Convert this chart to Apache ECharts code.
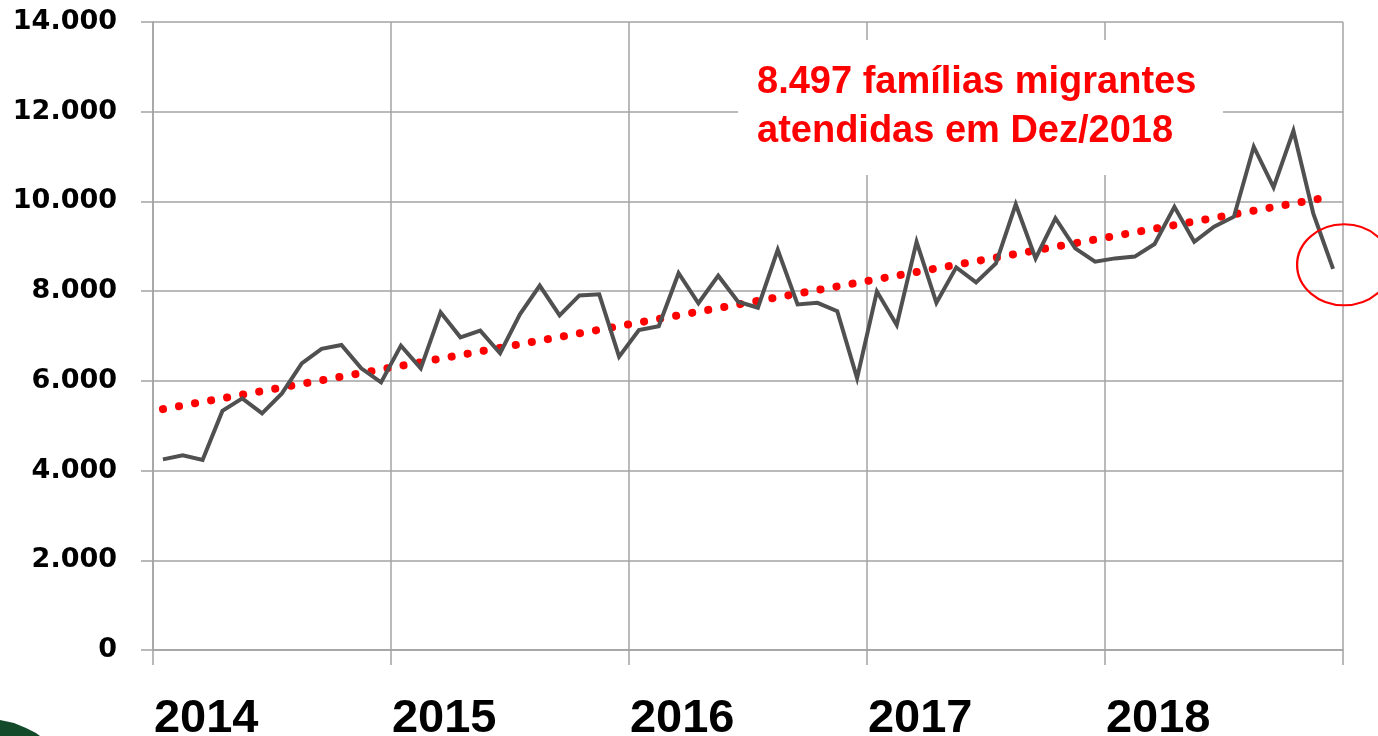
<!DOCTYPE html>
<html>
<head>
<meta charset="utf-8">
<script src="https://cdn.jsdelivr.net/npm/echarts@6/dist/echarts.min.js"></script>
<style>
  html, body { margin: 0; padding: 0; background: #fff; }
  #main { width: 1378px; height: 736px; }
</style>
</head>
<body>
<div id="main"></div>
<script>
// anos e meses do eixo x
const years = ["2014", "2015", "2016", "2017", "2018"];
const monthNames = ["jan", "fev", "mar", "abr", "mai", "jun", "jul", "ago", "set", "out", "nov", "dez"];

// familias migrantes atendidas por mes
const familias = [
  4250, 4340, 4235, 5330, 5610, 5275, 5720, 6390, 6715, 6800, 6280, 5965,
  6785, 6280, 7530, 6970, 7120, 6615, 7485, 8125, 7460, 7905, 7930, 6540,
  7135, 7220, 8400, 7730, 8345, 7765, 7630, 8920, 7705, 7740, 7555, 6060,
  7990, 7245, 9100, 7740, 8530, 8195, 8620, 9935, 8730, 9625, 8955, 8655,
  8730, 8770, 9050, 9880, 9100, 9435, 9660, 11220, 10315, 11575, 9735, 8497
];

// linha de tendencia (pontos inicial e final)
const trendStart = 5370;
const trendEnd = 10115;

const yTickLabels = ["0", "2.000", "4.000", "6.000", "8.000", "10.000", "12.000", "14.000"];
const noteLines = ["8.497 famílias migrantes", "atendidas em Dez/2018"];

const categories = [];
years.forEach(function (y) {
  monthNames.forEach(function (m) {
    categories.push(m + "/" + y);
  });
});

const trend = categories.map(function (c, i) {
  if (i === 0) return trendStart;
  if (i === categories.length - 1) return trendEnd;
  return null;
});

const gridColor = "#a3a3a3";

let option = {
  animation: false,
  backgroundColor: "#fff",
  grid: {
    left: 153,
    right: 35,
    top: 22,
    bottom: 86,
    outerBoundsMode: "none",
  },
  xAxis: {
    type: "category",
    data: categories,
    boundaryGap: true,
    axisLine: { lineStyle: { color: gridColor, width: 1.5 } },
    axisTick: { show: true, interval: 11, length: 15, lineStyle: { color: gridColor, width: 1.5 } },
    axisLabel: {
      interval: 11,
      align: "left",
      margin: 46,
      padding: [0, 0, 0, -9],
      fontFamily: "Liberation Sans",
      fontWeight: "bold",
      fontSize: 47,
      color: "#000",
      formatter: function (value) {
        return value.split("/")[1];
      },
    },
    splitLine: { show: true, interval: 11, lineStyle: { color: gridColor, width: 1.5 } },
  },
  yAxis: {
    type: "value",
    min: 0,
    max: 14000,
    interval: 2000,
    axisLine: { show: true, lineStyle: { color: gridColor, width: 1.5 } },
    axisTick: { show: true, length: 12, lineStyle: { color: gridColor, width: 1.5 } },
    axisLabel: {
      margin: 36,
      fontFamily: "DejaVu Sans",
      fontWeight: "bold",
      fontSize: 27,
      color: "#000",
      formatter: function (v) {
        return yTickLabels[v / 2000];
      },
    },
    splitLine: { lineStyle: { color: gridColor, width: 1.5 } },
  },
  series: [
    {
      name: "Tendência",
      type: "line",
      data: trend,
      connectNulls: true,
      showSymbol: false,
      z: 3,
      lineStyle: { color: "#ff0000", width: 8, type: [0.1, 16.2], cap: "round" },
    },
    {
      name: "Famílias",
      type: "line",
      data: familias,
      showSymbol: false,
      z: 4,
      lineStyle: { color: "#505050", width: 4, join: "miter" },
    },
  ],
};

var myChart = echarts.init(document.getElementById("main"));
myChart.setOption(option);

// circulo vermelho em volta do ultimo ponto + caixa com a nota
const last = myChart.convertToPixel({ gridIndex: 0 }, [categories.length - 1, familias[familias.length - 1]]);

myChart.setOption({
  graphic: [
    {
      type: "rect",
      z: 1,
      shape: { x: 738, y: 40, width: 485, height: 135 },
      style: { fill: "#fff" },
    },
    {
      type: "text",
      z: 2,
      x: 757,
      y: 58,
      style: {
        text: noteLines.join("\n"),
        font: "bold 38px 'Liberation Sans'",
        lineHeight: 49,
        fill: "#ff0000",
      },
    },
    {
      type: "circle",
      z: 5,
      x: last[0] + 11,
      y: last[1] - 4,
      scaleX: 1.16,
      shape: { cx: 0, cy: 0, r: 40.5 },
      style: { fill: "none", stroke: "#ff0000", lineWidth: 2, strokeNoScale: true },
    },
    {
      type: "polygon",
      z: 1,
      shape: { points: [[0, 720], [14, 723], [26, 728], [36, 733], [40, 736], [0, 736]] },
      style: { fill: "#134a2a" },
    },
  ],
});

window.onresize = function () {
  myChart.resize();
};
</script>
</body>
</html>
